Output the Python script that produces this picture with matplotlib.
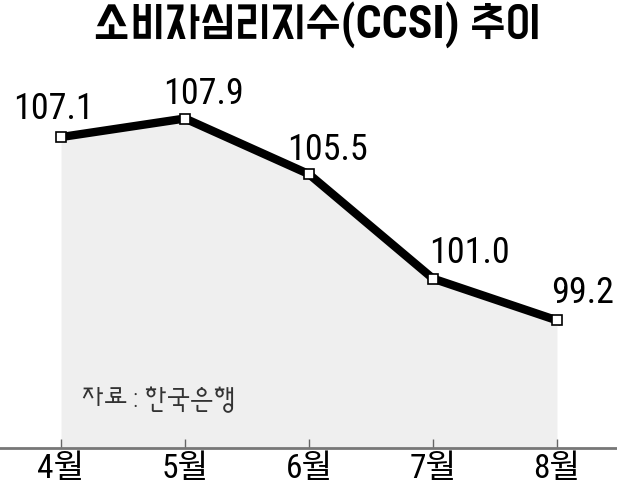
import matplotlib
matplotlib.use("Agg")
import matplotlib.pyplot as plt

# CCSI monthly values
months = ["4월", "5월", "6월", "7월", "8월"]
ccsi = [107.1, 107.9, 105.5, 101.0, 99.2]
title = "소비자심리지수(CCSI) 추이"
source = "자료 : 한국은행"

body_fonts = ["Roboto Condensed", "Sunflower", "Noto Sans CJK KR", "DejaVu Sans"]
tick_fonts = ["Roboto Condensed", "Noto Sans CJK KR", "DejaVu Sans"]
title_fonts = ["Roboto Condensed", "Do Hyeon", "Noto Sans CJK KR", "DejaVu Sans"]
plt.rcParams["font.family"] = body_fonts

W, H = 617, 489
fig = plt.figure(figsize=(W / 100, H / 100), dpi=100)
ax = fig.add_axes([0, (H - 449) / H, 1, 449 / H])

x = list(range(len(months)))
ymin = 93.7
ax.fill_between(x, ccsi, ymin, color="#efefef", lw=0, zorder=1)
ax.plot(x, ccsi, color="black", lw=6, solid_joinstyle="miter", zorder=2)
ax.plot(x, ccsi, ls="none", marker="s", ms=7.5, mfc="white", mec="black",
        mew=1.2, zorder=3)

# label offsets in pixels (dx, dy of baseline above marker)
offsets = [(-8, 19), (18, 16), (19, 15), (36, 17), (26, 18)]
for xi, v, (dx, dy) in zip(x, ccsi, offsets):
    ax.annotate(f"{v:.1f}", (xi, v), xytext=(dx, dy), textcoords="offset pixels",
                ha="center", va="baseline", fontsize=26, color="black", zorder=4)

ax.set_xlim(-0.492, 4.484)
ax.set_ylim(ymin, 113.05)
ax.set_yticks([])
ax.set_xticks(x)
ax.set_xticklabels(months, fontsize=24, family=tick_fonts)
ax.tick_params(axis="x", direction="in", length=6.5, width=1, color="#666666",
               pad=3)
for s in ["top", "left", "right"]:
    ax.spines[s].set_visible(False)
ax.spines["bottom"].set_color("#777777")
ax.spines["bottom"].set_linewidth(2)
ax.patch.set_alpha(0)

fig.text(317 / W, 1 - 25 / H, title, ha="center", va="center",
         fontsize=33, fontweight="bold", family=title_fonts)
fig.text(81 / W, 1 - 400 / H, source, ha="left", va="center",
         fontsize=18.5, fontweight=300, color="#333333")

fig.savefig("out.png", dpi=100)
